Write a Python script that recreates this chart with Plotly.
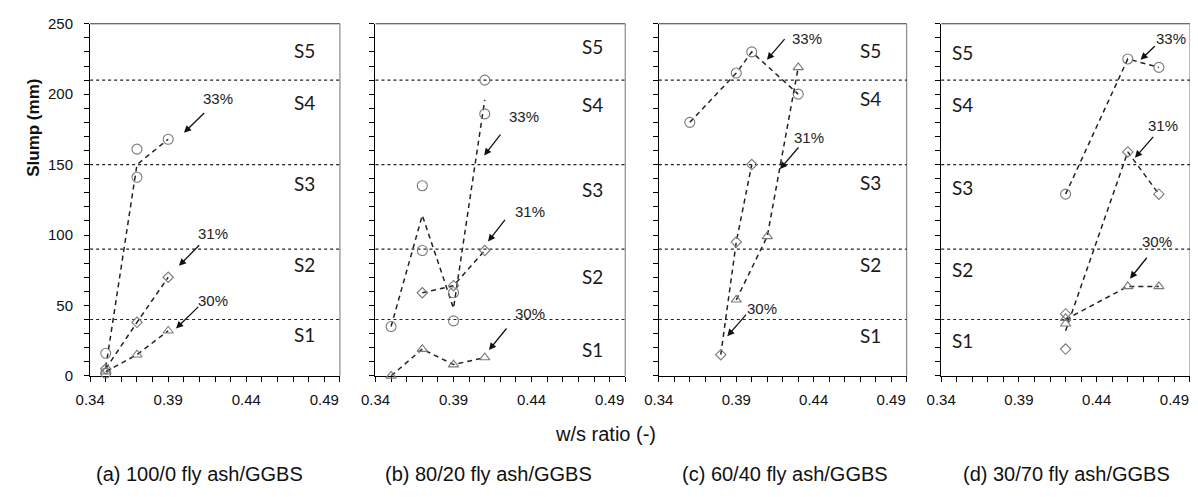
import plotly.graph_objects as go

# ---------------- data ----------------
CAPTIONS = ["(a) 100/0 fly ash/GGBS", "(b) 80/20 fly ash/GGBS",
            "(c) 60/40 fly ash/GGBS", "(d) 30/70 fly ash/GGBS"]
ZONE_LIMITS = [40, 90, 150, 210]
ZONE_NAMES = ["S1", "S2", "S3", "S4", "S5"]
SERIES_NAMES = ["33%", "31%", "30%"]

# panel (a)
a33_x = [0.35, 0.35, 0.37, 0.37, 0.39]
a33_y = [16, 2, 161, 141, 168]
a33_lx = [0.35, 0.37, 0.39]
a33_ly = [6, 150, 168]
a31_x = [0.35, 0.37, 0.39]
a31_y = [5, 38, 70]
a30_x = [0.35, 0.37, 0.39]
a30_y = [3, 15, 32]

# panel (b)
b33_x = [0.35, 0.37, 0.37, 0.39, 0.39, 0.41, 0.41]
b33_y = [35, 135, 89, 59, 39, 210, 186]
b33_lx = [0.35, 0.37, 0.39, 0.41]
b33_ly = [35, 114, 48, 196]
b31_x = [0.37, 0.39, 0.41]
b31_y = [59, 64, 89]
b30_x = [0.35, 0.37, 0.39, 0.41]
b30_y = [0, 19, 8, 13]

# panel (c)
c33_x = [0.36, 0.39, 0.40, 0.43]
c33_y = [180, 215, 230, 200]
c31_x = [0.38, 0.39, 0.40]
c31_y = [15, 95, 150]
c30_x = [0.39, 0.41, 0.43]
c30_y = [54, 99, 219]

# panel (d)
d33_x = [0.42, 0.46, 0.48]
d33_y = [129, 225, 219]
d31_x = [0.42, 0.42, 0.46, 0.48]
d31_y = [44, 19, 159, 129]
d31_lx = [0.42, 0.46, 0.48]
d31_ly = [32, 159, 129]
d30_x = [0.42, 0.42, 0.46, 0.48]
d30_y = [41, 37, 63.5, 63.5]
d30_lx = [0.42, 0.46, 0.48]
d30_ly = [40, 63.5, 63.5]

# ---------------- layout helpers ----------------
PAGE_MARGIN = 8          # default body margin of the html page
W, H = 1198 - 2 * PAGE_MARGIN, 497 - 2 * PAGE_MARGIN


def px_x(p):
    return (p - PAGE_MARGIN) / W


def px_y(p):
    return 1 - (p - PAGE_MARGIN) / H


X_DOMAINS = [(76, 329), (365, 618), (652, 903), (938, 1190)]
Y_TOP, Y_BOT = 15, 380

TICK_FONT = dict(family="Liberation Sans, Arial", size=15, color="#111")
MARK_COLOR = "#7a7a7a"
LINE_COLOR = "#222222"

panels = [
    dict(series=[("circle-open", 10, a33_x, a33_y, a33_lx, a33_ly),
                 ("diamond-open", 8, a31_x, a31_y, a31_x, a31_y),
                 ("triangle-up-open", 9, a30_x, a30_y, a30_x, a30_y)],
         labels=(0.4772, [29.5, 78.8, 136.3, 193.8, 230.8]),
         arrows=[((0.4216, 196.6), (0.4140, 187.7), (0.4001, 172.6)),
                 ((0.4190, 101.4), (0.4108, 93.8), (0.3969, 78.1)),
                 ((0.4190, 53.4), (0.4102, 50.0), (0.3950, 33.6))]),
    dict(series=[("circle-open", 10, b33_x, b33_y, b33_lx, b33_ly),
                 ("diamond-open", 8, b31_x, b31_y, b31_x, b31_y),
                 ("triangle-up-open", 9, b30_x, b30_y, b30_x, b30_y)],
         labels=(0.4791, [19, 70.5, 132, 193, 234]),
         arrows=[((0.4349, 183.8), (0.4208, 172.4), (0.4096, 156.4)),
                 ((0.4391, 116.9), (0.4237, 111.8), (0.4121, 95.4)),
                 ((0.4387, 44.5), (0.4247, 34.7), (0.4127, 18.3))]),
    dict(series=[("circle-open", 10, c33_x, c33_y, c33_x, c33_y),
                 ("diamond-open", 8, c31_x, c31_y, c31_x, c31_y),
                 ("triangle-up-open", 9, c30_x, c30_y, c30_x, c30_y)],
         labels=(0.4766, [28.8, 78.8, 137, 196.6, 231]),
         arrows=[((0.4357, 239.7), (0.4220, 240.2), (0.4098, 224.4)),
                 ((0.4367, 169.0), (0.4310, 163.2), (0.4182, 146.8)),
                 ((0.4067, 47.9), (0.3972, 44.5), (0.3842, 28.1))]),
    dict(series=[("circle-open", 10, d33_x, d33_y, d33_x, d33_y),
                 ("diamond-open", 8, d31_x, d31_y, d31_lx, d31_ly),
                 ("triangle-up-open", 9, d30_x, d30_y, d30_lx, d30_ly)],
         labels=(0.3539, [25.3, 75.3, 133.6, 193, 229.5]),
         arrows=[((0.4878, 239.7), (0.4783, 235.1), (0.4682, 224.4)),
                 ((0.4825, 178.1), (0.4772, 170.8), (0.4646, 154.8)),
                 ((0.4787, 95.4), (0.4730, 84.9), (0.4614, 69.0))]),
]

fig = go.Figure()
layout = dict(width=W, height=H, autosize=False,
              margin=dict(l=0, r=0, t=0, b=0, pad=0),
              paper_bgcolor="white", plot_bgcolor="white",
              showlegend=False, shapes=[], annotations=[])

ydom = [px_y(Y_BOT), px_y(Y_TOP)]

for i, p in enumerate(panels):
    k = "" if i == 0 else str(i + 1)
    xa, ya = "x" + k, "y" + k
    x0, x1 = X_DOMAINS[i]
    layout["xaxis" + k] = dict(
        domain=[px_x(x0), px_x(x1)], anchor=ya, range=[0.34, 0.50],
        tick0=0.34, dtick=0.05, tickformat=".2f", ticks="outside", ticklen=5,
        tickcolor="black", tickwidth=1, showline=True, linecolor="black",
        linewidth=1.2, showgrid=False, zeroline=False, tickfont=TICK_FONT,
        ticklabelstandoff=5, ticklabeloverflow="allow", layer="below traces",
        minor=dict(dtick=0.01, ticks="outside", ticklen=5, tickcolor="black",
                   showgrid=False))
    layout["yaxis" + k] = dict(
        domain=ydom, anchor=xa, range=[0, 250], dtick=50, ticks="outside",
        ticklen=5, tickcolor="black", tickwidth=1, showline=True,
        linecolor="black", linewidth=1.2, showgrid=False, zeroline=False,
        showticklabels=(i == 0), tickfont=TICK_FONT, ticklabelstandoff=8,
        ticklabeloverflow="allow", layer="below traces",
        minor=dict(dtick=10, ticks="outside", ticklen=5, tickcolor="black",
                   showgrid=False))

    # box top/right
    layout["shapes"].append(dict(type="line", xref=xa + " domain", yref=ya + " domain",
                                 x0=0, x1=1, y0=1, y1=1, layer="below",
                                 line=dict(color="#3a3a3a", width=1.2)))
    layout["shapes"].append(dict(type="line", xref=xa + " domain", yref=ya + " domain",
                                 x0=1, x1=1, y0=0, y1=1, layer="below",
                                 line=dict(color="#8a8a8a", width=1.2)))
    # zone limits
    for z in ZONE_LIMITS:
        layout["shapes"].append(dict(type="line", xref=xa + " domain", yref=ya,
                                     x0=0, x1=1, y0=z, y1=z, layer="below",
                                     line=dict(color="#222", width=1.1, dash="dot")))
    # zone labels
    lx, lys = p["labels"]
    for name, ly in zip(ZONE_NAMES, lys):
        layout["annotations"].append(dict(
            x=lx, y=ly, xref=xa, yref=ya, text=name, showarrow=False,
            xanchor="center", yanchor="middle",
            font=dict(family="Lato, Noto Sans", size=19, color="#1a1a1a")))

    # series
    for sym, size, mx, my, lx_, ly_ in p["series"]:
        fig.add_trace(go.Scatter(x=lx_, y=ly_, mode="lines", xaxis=xa, yaxis=ya,
                                 line=dict(color=LINE_COLOR, width=1.5, dash="5px,4px"),
                                 hoverinfo="skip"))
        fig.add_trace(go.Scatter(x=mx, y=my, mode="markers", xaxis=xa, yaxis=ya,
                                 cliponaxis=False,
                                 marker=dict(symbol=sym, size=size, color=MARK_COLOR,
                                             line=dict(color=MARK_COLOR, width=1.1))))

    # arrows + percent labels
    for name, (txt, tail, head) in zip(SERIES_NAMES, p["arrows"]):
        layout["annotations"].append(dict(
            x=txt[0], y=txt[1], xref=xa, yref=ya, text=name, showarrow=False,
            xanchor="center", yanchor="middle",
            font=dict(family="Liberation Sans, Arial", size=15, color="#222")))
        layout["annotations"].append(dict(
            x=head[0], y=head[1], ax=tail[0], ay=tail[1], xref=xa, yref=ya,
            axref=xa, ayref=ya, text="", showarrow=True, arrowhead=2,
            arrowsize=1.1, arrowwidth=1.3, arrowcolor="#111"))

    # caption
    cx = [187, 479, 780, 1065][i]
    layout["annotations"].append(dict(
        x=px_x(cx), y=px_y(482), xref="paper", yref="paper", text=CAPTIONS[i],
        showarrow=False, xanchor="center", yanchor="middle",
        font=dict(family="Liberation Sans, Arial", size=20, color="#111")))

layout["annotations"].append(dict(
    x=px_x(19), y=px_y(123), xref="paper", yref="paper", text="<b>Slump (mm)</b>",
    textangle=-90, showarrow=False, xanchor="center", yanchor="middle",
    font=dict(family="Liberation Sans, Arial", size=17, color="#111")))
layout["annotations"].append(dict(
    x=px_x(598), y=px_y(440), xref="paper", yref="paper", text="w/s ratio (-)",
    showarrow=False, xanchor="center", yanchor="middle",
    font=dict(family="Liberation Sans, Arial", size=20, color="#111")))

fig.update_layout(**layout)
fig.write_html("out.html")
